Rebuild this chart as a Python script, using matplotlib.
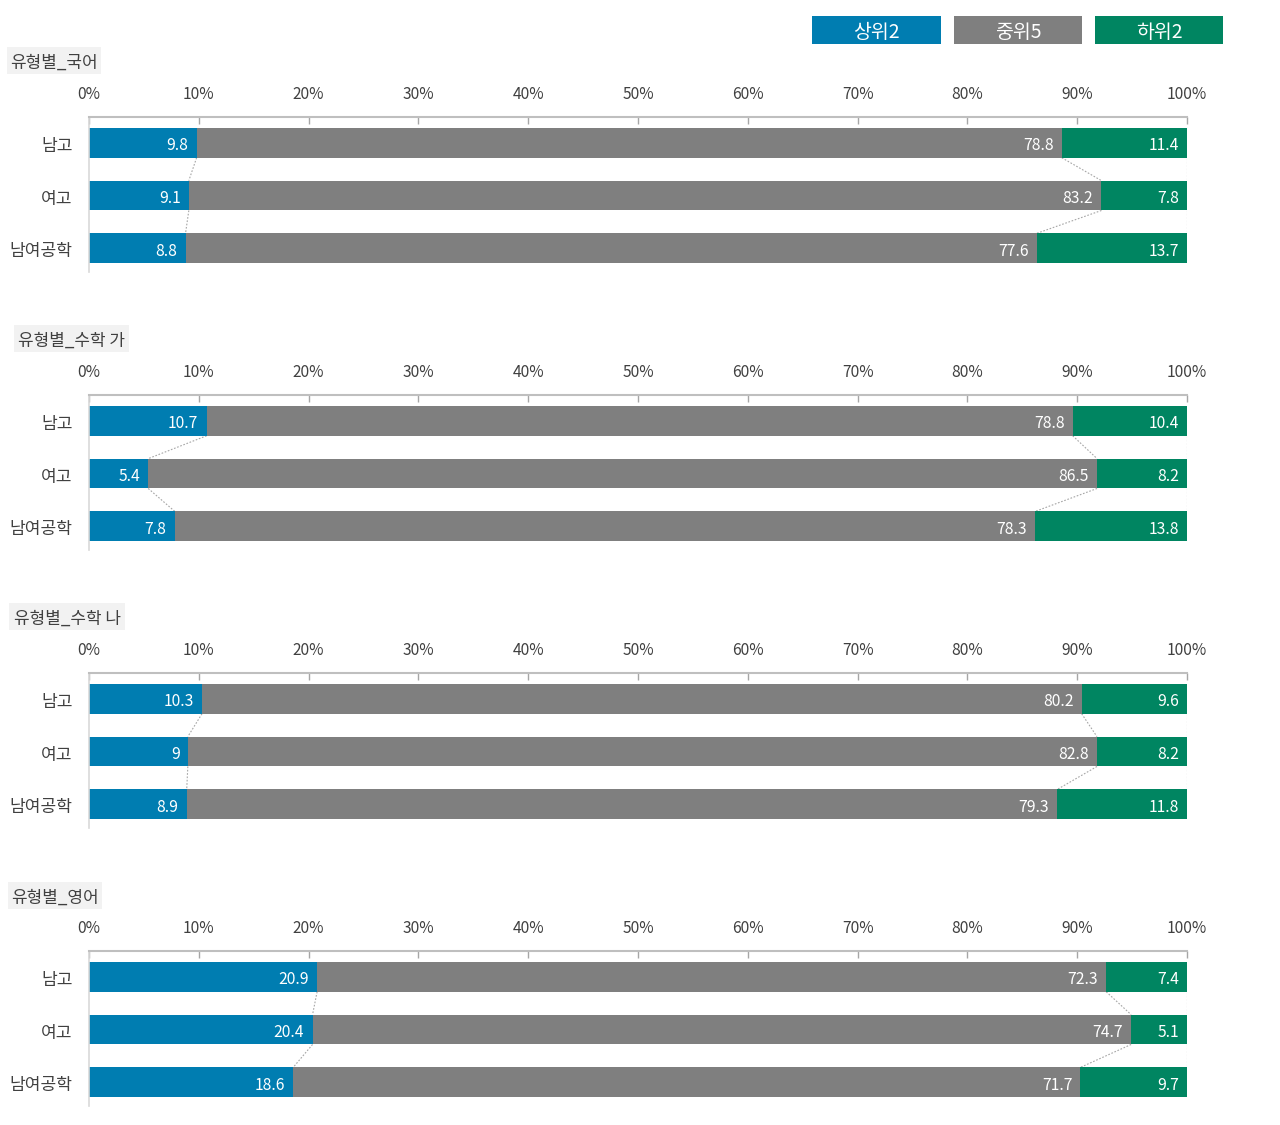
import matplotlib
matplotlib.use("Agg")
import matplotlib.pyplot as plt
from matplotlib.patches import Rectangle
import numpy as np

plt.rcParams['font.family'] = ['Noto Sans CJK KR', 'DejaVu Sans']

categories = ['남고', '여고', '남여공학']
series_names = ['상위2', '중위5', '하위2']
panel_titles = ['유형별_국어', '유형별_수학 가', '유형별_수학 나', '유형별_영어']

top_vals = [[9.8, 9.1, 8.8], [10.7, 5.4, 7.8], [10.3, 9, 8.9], [20.9, 20.4, 18.6]]
mid_vals = [[78.8, 83.2, 77.6], [78.8, 86.5, 78.3], [80.2, 82.8, 79.3], [72.3, 74.7, 71.7]]
low_vals = [[11.4, 7.8, 13.7], [10.4, 8.2, 13.8], [9.6, 8.2, 11.8], [7.4, 5.1, 9.7]]
top_labels = [['9.8', '9.1', '8.8'], ['10.7', '5.4', '7.8'], ['10.3', '9', '8.9'], ['20.9', '20.4', '18.6']]
mid_labels = [['78.8', '83.2', '77.6'], ['78.8', '86.5', '78.3'], ['80.2', '82.8', '79.3'], ['72.3', '74.7', '71.7']]
low_labels = [['11.4', '7.8', '13.7'], ['10.4', '8.2', '13.8'], ['9.6', '8.2', '11.8'], ['7.4', '5.1', '9.7']]
xticks = [0, 10, 20, 30, 40, 50, 60, 70, 80, 90, 100]

colors = ['#007DB1', '#7F7F7F', '#008561']

W, H = 1280, 1125
fig = plt.figure(figsize=(W / 100, H / 100), dpi=100)

def fx(px):
    return px / W

def fy(py):
    return 1 - py / H

axis_tops = [117, 395, 673, 951]
title_boxes = [(7, 101, 47, 74), (14, 129, 325, 352), (9, 125, 603, 630), (8, 102, 882, 909)]
x0, x1 = 89, 1187
ax_h = 155

for p in range(4):
    top = axis_tops[p]
    ax = fig.add_axes([fx(x0), fy(top + ax_h), fx(x1) - fx(x0), ax_h / H])
    y = np.arange(len(categories))
    t = np.array(top_vals[p], float)
    m = np.array(mid_vals[p], float)
    l = np.array(low_vals[p], float)
    tot = t + m + l
    t, m, l = t / tot * 100, m / tot * 100, l / tot * 100
    segs = [t, m, l]
    labs = [top_labels[p], mid_labels[p], low_labels[p]]
    left = np.zeros(3)
    bh = 30 / 53
    bounds = []
    for s in range(3):
        ax.barh(y, segs[s], left=left, height=bh, color=colors[s], edgecolor='none', zorder=2)
        for i in range(3):
            ax.text(left[i] + segs[s][i] - 0.75, y[i] + 0.055, labs[s][i], ha='right', va='center',
                    color='white', fontsize=11.3, zorder=3)
        left = left + segs[s]
        bounds.append(left.copy())
    # series lines
    for b in bounds:
        for i in range(2):
            ax.plot([b[i], b[i + 1]], [y[i] + bh / 2, y[i + 1] - bh / 2], color='#A6A6A6',
                    lw=0.8, ls=(0, (1.5, 1.5)), zorder=1)
    ax.set_xlim(0, 100)
    ax.set_ylim(2.45, -0.49)
    ax.xaxis.tick_top()
    ax.set_xticks(xticks)
    ax.set_xticklabels([f'{v}%' for v in xticks], fontsize=11.2, color='#404040')
    ax.tick_params(axis='x', direction='in', length=5, color='#A6A6A6', width=1, pad=10.4)
    ax.set_yticks(y + 0.02)
    ax.set_yticklabels(categories, fontsize=12.3, color='#404040')
    ax.tick_params(axis='y', length=0, pad=11.7)
    for sp in ['right', 'bottom']:
        ax.spines[sp].set_visible(False)
    ax.spines['top'].set_color('#BFBFBF')
    ax.spines['top'].set_linewidth(1.5)
    ax.spines['left'].set_color('#D9D9D9')
    ax.spines['left'].set_linewidth(1.2)
    ax.patch.set_alpha(0)

    bx0, bx1, by0, by1 = title_boxes[p]
    fig.patches.append(Rectangle((fx(bx0), fy(by1)), fx(bx1) - fx(bx0), (by1 - by0) / H,
                                 transform=fig.transFigure, facecolor='#F2F2F2', edgecolor='none'))
    fig.text(fx((bx0 + bx1) / 2), fy((by0 + by1) / 2 + 2), panel_titles[p], ha='center', va='center',
             fontsize=12.2, color='#404040')

# legend
leg_boxes = [(812, 941), (954, 1082), (1095, 1223)]
for k, (a, b) in enumerate(leg_boxes):
    fig.patches.append(Rectangle((fx(a), fy(44)), fx(b) - fx(a), 28 / H, transform=fig.transFigure,
                                 facecolor=colors[k], edgecolor='none'))
    fig.text(fx((a + b) / 2), fy(32), series_names[k], ha='center', va='center',
             fontsize=14, color='white')

fig.savefig('out.png', dpi=100, facecolor='white')
